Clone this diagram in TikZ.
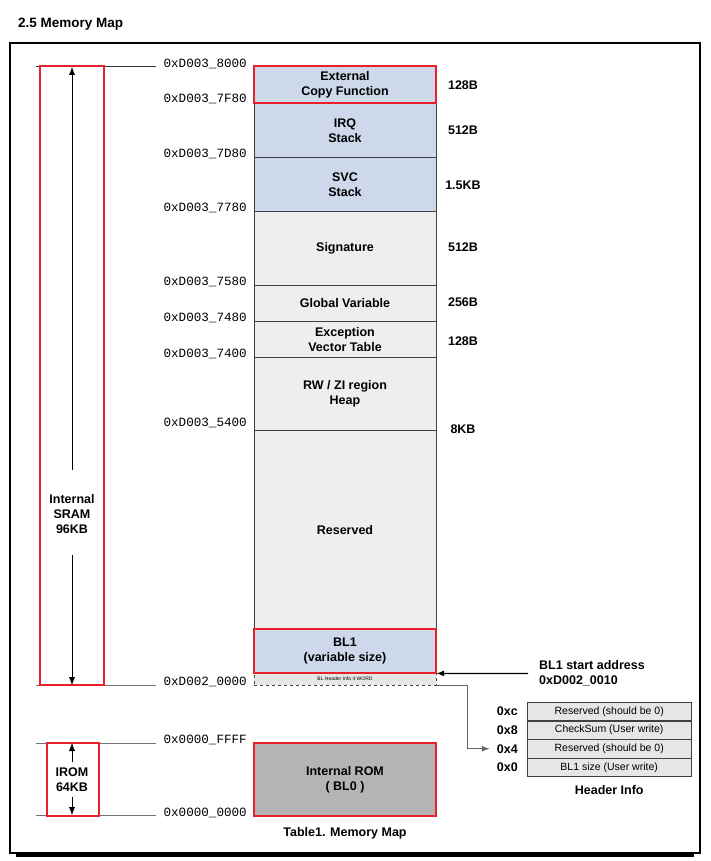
\documentclass[tikz,border=0pt]{standalone}
\usepackage{fontspec}
\setmainfont{Liberation Sans}
\setmonofont{Liberation Mono}
\usetikzlibrary{positioning,arrows.meta}

\definecolor{memblue}{HTML}{CDD8EA}
\definecolor{memgray}{HTML}{EEEEEE}
\definecolor{hdrgray}{HTML}{E6E6E6}
\definecolor{romgray}{HTML}{B4B4B4}
\definecolor{memred}{HTML}{E8202A}

\newcommand{\boxfont}{\bfseries\fontsize{12.5}{15}\selectfont}
\newcommand{\addrfont}{\ttfamily\fontsize{12.6}{14}\selectfont}

\begin{document}
\begin{tikzpicture}[x=1pt,y=-1pt,
	block/.style={draw=black!75, fill=memgray, minimum width=182pt, inner sep=0pt, anchor=north, align=center, font=\boxfont},
	redbox/.style={draw=memred, line width=2pt},
	addr/.style={anchor=east, inner sep=0pt, font=\addrfont},
	size/.style={inner sep=0pt, font=\boxfont},
	maplbl/.style={inner sep=0pt, align=center, font=\boxfont},
	rowbox/.style={draw=black!75, fill=hdrgray, minimum width=164pt, minimum height=18.3pt, inner sep=0pt, font=\fontsize{10.5}{12}\selectfont},
	offs/.style={inner sep=0pt, font=\boxfont},
	refline/.style={draw=black!55, line width=1pt},
	tip/.style={-{Latex[length=8pt,width=6pt]}}]
	\useasboundingbox (0,0) rectangle (710,861);

	% Draw title and frame
	\node[anchor=base west, inner sep=0pt, font=\bfseries\fontsize{13.5}{15}\selectfont] (title) at (18,27.5) {2.5 Memory Map};
	\draw[line width=1.2pt] (10,43) rectangle (700,853);
	\draw[line width=3pt] (16,855.5) -- (694,855.5);

	% Draw memory blocks
	\node[block, fill=memblue, minimum height=37pt] (ext) at (345,66) {External\\Copy Function};
	\node[block, fill=memblue, minimum height=54pt] (irq) at (345,103) {IRQ\\Stack};
	\node[block, fill=memblue, minimum height=54pt] (svc) at (345,157) {SVC\\Stack};
	\node[block, minimum height=74pt] (sig) at (345,211) {Signature};
	\node[block, minimum height=36pt] (glob) at (345,285) {Global Variable};
	\node[block, minimum height=36pt] (exc) at (345,321) {Exception\\Vector Table};
	\node[block, minimum height=73pt] (rw) at (345,357) {RW / ZI region\\Heap};
	\node[block, minimum height=199pt] (res) at (345,430) {Reserved};
	\node[block, fill=memblue, minimum height=44pt] (bl1) at (345,629) {BL1\\(variable size)};
	\node[block, fill=hdrgray, dashed, minimum height=12pt, font=\fontsize{5}{6}\selectfont] (hdr) at (345,673) {BL Header Info 4 WORD};
	\node[block, fill=romgray, minimum height=73pt] (rom) at (345,743) {Internal ROM\\( BL0 )};

	% Draw red outlines
	\draw[redbox] (ext.north west) rectangle (ext.south east);
	\draw[redbox] (bl1.north west) rectangle (bl1.south east);
	\draw[redbox] (rom.north west) rectangle (rom.south east);

	% Label addresses
	\node[addr] (a8000) at (247,63.5) {0xD003\_8000};
	\node[addr] (a7f80) at (247,99) {0xD003\_7F80};
	\node[addr] (a7d80) at (247,154) {0xD003\_7D80};
	\node[addr] (a7780) at (247,208) {0xD003\_7780};
	\node[addr] (a7580) at (247,281.5) {0xD003\_7580};
	\node[addr] (a7480) at (247,317.5) {0xD003\_7480};
	\node[addr] (a7400) at (247,354) {0xD003\_7400};
	\node[addr] (a5400) at (247,422.5) {0xD003\_5400};
	\node[addr] (a0000) at (247,681.5) {0xD002\_0000};
	\node[addr] (rffff) at (247,739.5) {0x0000\_FFFF};
	\node[addr] (r0000) at (247,812.5) {0x0000\_0000};

	% Label sizes
	\node[size] (s1) at (463,85) {128B};
	\node[size] (s2) at (463,130) {512B};
	\node[size] (s3) at (463,185) {1.5KB};
	\node[size] (s4) at (463,247.5) {512B};
	\node[size] (s5) at (463,302.5) {256B};
	\node[size] (s6) at (463,341) {128B};
	\node[size] (s7) at (463,429.5) {8KB};

	% Draw reference lines
	\draw[refline, draw=black!80] (36,67) -- (156,67);
	\draw[refline] (36,685) -- (156,685);
	\draw[refline] (36,743) -- (156,743);
	\draw[refline] (36,815) -- (156,815);

	% Draw SRAM and IROM ranges
	\draw[redbox] (40,66) rectangle (104,685);
	\draw[redbox] (47,743) rectangle (99,816);
	\node[maplbl, text width=60pt] (sram) at (72,514) {Internal\\SRAM\\96KB};
	\node[maplbl] (irom) at (72,779.5) {IROM\\64KB};
	\coordinate (sramtop) at (72,67);
	\coordinate (srambot) at (72,685);
	\coordinate (iromtop) at (72,743);
	\coordinate (irombot) at (72,815);
	\draw[tip] ([yshift=24pt]sram.north) -- (sramtop);
	\draw[tip] ([yshift=-21pt]sram.south) -- (srambot);
	\draw[tip] ([yshift=5pt]irom.north) -- (iromtop);
	\draw[tip] ([yshift=-5pt]irom.south) -- (irombot);

	% Draw BL1 start address
	\node[maplbl, anchor=west, align=left, inner xsep=11pt] (start) at (528,673.5) {BL1 start address\\0xD002\_0010};
	\draw[tip, line width=1.2pt] (start.west) -- (bl1.south east);

	% Draw header info table
	\node[rowbox, anchor=north west] (rowc) at (527,702) {Reserved (should be 0)};
	\node[rowbox, below=0pt of rowc] (row8) {CheckSum (User write)};
	\node[rowbox, below=0pt of row8] (row4) {Reserved (should be 0)};
	\node[rowbox, below=0pt of row4] (row0) {BL1 size (User write)};
	\node[offs, left=9pt of rowc] (oc) {0xc};
	\node[offs, left=9pt of row8] (o8) {0x8};
	\node[offs, left=9pt of row4] (o4) {0x4};
	\node[offs, left=9pt of row0] (o0) {0x0};
	\node[maplbl, below=8pt of row0] (hinfo) {Header Info};
	\draw[tip, draw=black!60, line width=1pt] (hdr.south east) -- ++(31,0) |- ([xshift=-7pt]o4.west);

	% Label table
	\node[maplbl] (tcap) at (345,833) {Table1. Memory Map};
\end{tikzpicture}
\end{document}
